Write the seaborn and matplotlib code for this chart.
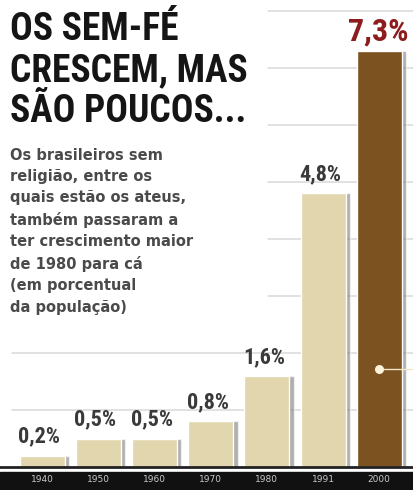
import pandas as pd
import matplotlib.pyplot as plt
import seaborn as sns
from matplotlib import font_manager
from matplotlib.patches import Rectangle

# Data
years = ['1940', '1950', '1960', '1970', '1980', '1991', '2000']
values = [0.2, 0.5, 0.5, 0.8, 1.6, 4.8, 7.3]
labels = ['0,2%', '0,5%', '0,5%', '0,8%', '1,6%', '4,8%', '7,3%']
bar_colors = ['#e2d6ae'] * 6 + ['#7d5221']

df = pd.DataFrame({'ano': years, 'pct': values})

sns.set_style("white")
plt.rcParams['font.family'] = ['DejaVu Sans']

# pick a condensed family for the headline and value labels
installed = {f.name for f in font_manager.fontManager.ttflist}
candidates = ['Roboto Condensed', 'Archivo Narrow', 'PT Sans Narrow',
              'Barlow Condensed', 'Fjalla One', 'Oswald', 'Liberation Sans Narrow']
narrow_name = next((c for c in candidates if c in installed), 'DejaVu Sans')
narrow = [narrow_name, 'DejaVu Sans']

fig = plt.figure(figsize=(4.13, 4.9), dpi=100)

# black band behind the years
fig.patches.append(Rectangle((0, 0), 1, 18 / 490, transform=fig.transFigure,
                             color='#111111', zorder=-5))

ax = fig.add_axes([0, 23 / 490, 1, 467 / 490])
ax.set_zorder(2)

# gridlines: lower ones full width, upper ones only right of the text block
for g in range(1, 9):
    xmin = 0.03 if g <= 2 else 0.65
    ax.axhline(g, xmin=xmin, xmax=1, color='#d8d8d8', lw=1.1, zorder=0)

# soft grey shadow to the right of each bar
ax.bar([i + 0.08 for i in range(len(years))], values, width=0.8,
       color='#7a7a7a', alpha=0.6, zorder=1)

sns.barplot(data=df, x='ano', y='pct', hue='ano', palette=bar_colors,
            legend=False, width=0.8, saturation=1, ax=ax, zorder=2)

for i, (v, lab) in enumerate(zip(values, labels)):
    if i == len(values) - 1:
        ax.text(i - 0.02, v + 0.07, lab, ha='center', va='bottom', fontsize=23,
                fontweight='bold', color='#8c1c1e', family=narrow)
    else:
        ax.text(i - 0.05, v + 0.14, lab, ha='center', va='bottom', fontsize=16,
                fontweight='bold', color='#3a3a3a', family=narrow)

# small callout dot on the 2000 bar
ax.plot([6, 6.6], [1.72, 1.72], color='#f0e6c8', lw=1, zorder=3)
ax.scatter([6], [1.72], s=30, color='#fbf3da', zorder=4)

ax.set_xlim(-0.75, 6.6)
ax.set_ylim(0, 467 / 57)
ax.set_xlabel('')
ax.set_ylabel('')
ax.set_yticks([])
ax.tick_params(axis='x', length=0, pad=6, labelsize=6.5, labelcolor='#c8c8c8')
for s in ['top', 'right', 'left']:
    ax.spines[s].set_visible(False)
ax.spines['bottom'].set_color('#222222')
ax.spines['bottom'].set_linewidth(2)
ax.patch.set_alpha(0)

fig.text(10 / 413, 1 - 11 / 490, 'OS SEM-FÉ\nCRESCEM, MAS\nSÃO POUCOS...',
         ha='left', va='top', fontsize=27, fontweight='heavy', color='#151515',
         linespacing=1.14, family=narrow)

fig.text(10 / 413, 1 - 148 / 490,
         'Os brasileiros sem\nreligião, entre os\nquais estão os ateus,\n'
         'também passaram a\nter crescimento maior\nde 1980 para cá\n'
         '(em porcentual\nda população)',
         ha='left', va='top', fontsize=10.5, fontweight='bold', color='#4a4a4a',
         linespacing=1.52)

plt.savefig('out.png', dpi=100)
